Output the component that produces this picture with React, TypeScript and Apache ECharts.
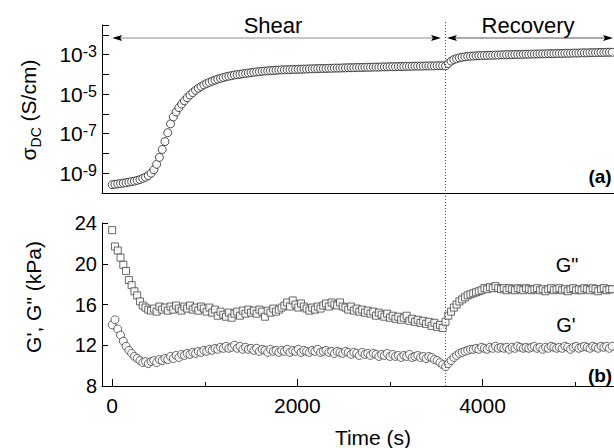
import React, { useEffect, useRef } from 'react';
import * as echarts from 'echarts';

// ---- data ----
const SAMPLE_STEP_S = 30; // sampling interval of the measurement (s)
const SHEAR_END_S = 3600; // end of shear / start of recovery
const TIME_MIN_S = -110;
const TIME_MAX_S = 5420;

// log10 of sigma_DC (S/cm), one value every SAMPLE_STEP_S seconds starting at t = 0
const sigmaLog10 = [
  -9.58, -9.56, -9.54, -9.52, -9.50, -9.48, -9.45, -9.42, -9.40, -9.36,
  -9.32, -9.26, -9.20, -9.12, -9.00, -8.82, -8.55, -8.20, -7.80, -7.40,
  -6.95, -6.50, -6.15, -5.90, -5.68, -5.50, -5.33, -5.18, -5.04, -4.92,
  -4.80, -4.70, -4.61, -4.53, -4.46, -4.40, -4.34, -4.29, -4.24, -4.20,
  -4.16, -4.12, -4.09, -4.06, -4.03, -4.01, -3.99, -3.97, -3.95, -3.93,
  -3.91, -3.89, -3.87, -3.86, -3.84, -3.83, -3.82, -3.81, -3.80, -3.79,
  -3.78, -3.77, -3.77, -3.76, -3.76, -3.75, -3.75, -3.74, -3.74, -3.73,
  -3.73, -3.72, -3.72, -3.71, -3.71, -3.70, -3.70, -3.70, -3.69, -3.69,
  -3.68, -3.68, -3.68, -3.67, -3.67, -3.66, -3.66, -3.66, -3.65, -3.65,
  -3.65, -3.64, -3.64, -3.64, -3.63, -3.63, -3.63, -3.62, -3.62, -3.62,
  -3.61, -3.61, -3.61, -3.60, -3.60, -3.60, -3.59, -3.59, -3.59, -3.58,
  -3.58, -3.58, -3.58, -3.57, -3.57, -3.57, -3.57, -3.56, -3.56, -3.56,
  -3.57, -3.45, -3.33, -3.25, -3.20, -3.16, -3.13, -3.11, -3.09, -3.08,
  -3.07, -3.06, -3.05, -3.05, -3.04, -3.04, -3.03, -3.03, -3.02, -3.02,
  -3.01, -3.01, -3.00, -3.00, -3.00, -2.99, -2.99, -2.99, -2.98, -2.98,
  -2.98, -2.97, -2.97, -2.97, -2.96, -2.96, -2.96, -2.95, -2.95, -2.95,
  -2.94, -2.94, -2.94, -2.93, -2.93, -2.93, -2.92, -2.92, -2.92, -2.91,
  -2.91, -2.91, -2.90, -2.90, -2.90, -2.89, -2.89, -2.89, -2.88, -2.88,
  -2.88,
];

// G'' (kPa)
const gDoublePrime = [
  23.3, 21.7, 21.3, 20.6, 19.9, 19.3, 18.4, 17.9, 17.3, 16.9,
  16.3, 15.9, 15.7, 15.5, 15.4, 15.6, 15.3, 15.8, 15.5, 15.7,
  15.4, 15.8, 15.5, 15.9, 15.6, 15.4, 15.8, 15.6, 15.9, 15.5,
  15.7, 15.4, 15.8, 15.6, 15.3, 15.7, 15.2, 15.5, 14.9, 15.3,
  15.0, 14.8, 15.2, 14.7, 15.1, 15.3, 14.9, 15.4, 15.1, 15.5,
  15.2, 15.4, 15.1, 15.5, 15.3, 14.8, 15.4, 15.2, 15.6, 15.3,
  15.5, 15.7, 15.9, 16.2, 15.8, 16.4, 16.0, 15.7, 16.1, 15.8,
  15.6, 15.4, 15.7, 15.5, 15.8, 15.6, 15.9, 16.1, 15.8, 16.2,
  16.0, 15.9, 16.2, 15.8, 15.7, 15.5, 15.8, 15.4, 15.6, 15.3,
  15.5, 15.2, 15.4, 15.1, 15.3, 14.9, 15.2, 15.0, 14.8, 15.1,
  14.7, 14.9, 14.6, 14.8, 14.5, 14.7, 14.9, 14.4, 14.6, 14.3,
  14.5, 14.2, 14.4, 14.1, 14.3, 13.9, 14.2, 13.8, 14.0, 13.7,
  14.3, 14.9, 15.3, 15.7, 16.0, 16.3, 16.5, 16.7, 16.9, 17.0,
  17.1, 17.2, 17.3, 17.4, 17.6, 17.5, 17.7, 17.6, 17.8, 17.6,
  17.5, 17.6, 17.4, 17.6, 17.5, 17.4, 17.6, 17.5, 17.4, 17.6,
  17.5, 17.4, 17.5, 17.6, 17.4, 17.5, 17.3, 17.5, 17.6, 17.4,
  17.5, 17.6, 17.4, 17.5, 17.3, 17.5, 17.6, 17.4, 17.5, 17.4,
  17.6, 17.5, 17.4, 17.6, 17.5, 17.3, 17.5, 17.6, 17.4, 17.5,
  17.5,
];

// G' (kPa)
const gPrime = [
  14.0, 14.5, 13.6, 13.0, 12.4, 11.9, 11.5, 11.2, 10.9, 10.7,
  10.5, 10.3, 10.4, 10.2, 10.4, 10.5, 10.3, 10.6, 10.5, 10.7,
  10.6, 10.9, 10.7, 11.0, 10.8, 11.1, 11.0, 11.2, 11.1, 11.3,
  11.2, 11.4, 11.3, 11.5, 11.4, 11.6, 11.5, 11.7, 11.6, 11.8,
  11.7, 11.9, 11.7, 11.8, 12.0, 11.7, 11.9, 11.6, 11.8, 11.6,
  11.7, 11.5, 11.7, 11.4, 11.6, 11.5, 11.3, 11.6, 11.4, 11.5,
  11.3, 11.5, 11.4, 11.6, 11.3, 11.5, 11.4, 11.6, 11.3, 11.5,
  11.4, 11.3, 11.5, 11.4, 11.6, 11.3, 11.4, 11.5, 11.3, 11.4,
  11.2, 11.4, 11.3, 11.2, 11.4, 11.3, 11.1, 11.3, 11.2, 11.0,
  11.3, 11.1, 11.2, 11.0, 11.2, 11.1, 10.9, 11.1, 11.0, 11.2,
  10.9, 11.1, 10.9, 11.0, 10.8, 11.0, 10.9, 11.1, 10.8, 10.9,
  11.0, 10.8, 10.9, 10.7, 10.9, 10.8, 10.6, 10.5, 10.3, 10.1,
  9.9, 10.2, 10.5, 10.8, 11.0, 11.2, 11.3, 11.4, 11.5, 11.6,
  11.6, 11.7, 11.6, 11.8, 11.7, 11.6, 11.8, 11.7, 11.9, 11.7,
  11.8, 11.7, 11.8, 11.6, 11.8, 11.7, 11.9, 11.8, 11.7, 11.8,
  11.7, 11.8, 11.9, 11.7, 11.8, 11.6, 11.8, 11.7, 11.9, 11.8,
  11.7, 11.8, 11.7, 11.9, 11.8, 11.6, 11.8, 11.9, 11.7, 11.8,
  11.9, 11.8, 11.7, 11.9, 11.8, 11.7, 11.9, 11.8, 11.9, 11.7,
  11.9,
];

const timeMajorTicks = [0, 2000, 4000];
const timeMinorTicks = [1000, 3000, 5000];
const sigmaLimits = [1e-10, Math.pow(10, -1.5)];
const gLimits = [8, 24];
const gInterval = 4;

const FONT = "'Liberation Sans', Arial, Helvetica, sans-serif";

export default function App() {
  const ref = useRef<HTMLDivElement>(null);

  useEffect(() => {
    const chart = echarts.init(ref.current!, null, { renderer: 'svg' });
    const axisLineStyle = { color: '#000', width: 1 };

    const option: any = {
      animation: false,
      backgroundColor: '#fff',
      grid: [
        { left: 102, top: 25, width: 512, height: 168 },
        { left: 102, top: 223, width: 512, height: 163 },
      ],
      xAxis: [
        {
          gridIndex: 0, type: 'value', min: TIME_MIN_S, max: TIME_MAX_S,
          axisLine: { lineStyle: axisLineStyle },
          axisTick: { show: false }, axisLabel: { show: false }, splitLine: { show: false },
        },
        {
          gridIndex: 1, type: 'value', min: TIME_MIN_S, max: TIME_MAX_S, position: 'bottom',
          axisLine: { lineStyle: axisLineStyle },
          axisTick: { inside: true, length: 7, customValues: timeMajorTicks, lineStyle: axisLineStyle },
          axisLabel: {
            customValues: timeMajorTicks, fontSize: 21, color: '#000', fontFamily: FONT, margin: 9,
            formatter: (v: number) => String(v),
          },
          splitLine: { show: false },
        },
        {
          gridIndex: 1, type: 'value', min: TIME_MIN_S, max: TIME_MAX_S, position: 'bottom',
          axisLine: { show: false },
          axisTick: { inside: true, length: 4, customValues: timeMinorTicks, lineStyle: axisLineStyle },
          axisLabel: { show: false }, splitLine: { show: false },
        },
      ],
      yAxis: [
        {
          gridIndex: 0, type: 'log', logBase: 10, min: sigmaLimits[0], max: sigmaLimits[1],
          axisLine: { onZero: false, lineStyle: axisLineStyle },
          axisTick: { inside: true, length: 7, lineStyle: axisLineStyle },
          axisLabel: {
            margin: 5, fontSize: 21, color: '#000', fontFamily: FONT,
            formatter: (v: number) => {
              const e = Math.log10(v);
              const r = Math.round(e);
              if (Math.abs(e - r) > 0.01 || Math.abs(r) % 2 === 0) return '';
              return `{b|10}{s|${r}}`;
            },
            rich: {
              b: { fontSize: 21, lineHeight: 22, color: '#000', fontFamily: FONT },
              s: { fontSize: 16, lineHeight: 16, verticalAlign: 'top', color: '#000', fontFamily: FONT },
            },
          },
          splitLine: { show: false },
        },
        {
          gridIndex: 1, type: 'value', min: gLimits[0], max: gLimits[1], interval: gInterval,
          axisLine: { onZero: false, lineStyle: axisLineStyle },
          axisTick: { inside: true, length: 6, lineStyle: axisLineStyle },
          axisLabel: { fontSize: 20, color: '#000', fontFamily: FONT, margin: 5 },
          splitLine: { show: false },
        },
      ],
      series: [
        {
          type: 'scatter', xAxisIndex: 0, yAxisIndex: 0,
          data: sigmaLog10.map((e, i) => [i * SAMPLE_STEP_S, Math.pow(10, e)]),
          symbol: 'circle', symbolSize: 8,
          itemStyle: { color: '#fff', borderColor: '#222', borderWidth: 1 },
        },
        {
          type: 'scatter', xAxisIndex: 1, yAxisIndex: 1,
          data: gDoublePrime.map((v, i) => [i * SAMPLE_STEP_S, v]),
          symbol: 'rect', symbolSize: 7,
          itemStyle: { color: '#fff', borderColor: '#444', borderWidth: 1 },
        },
        {
          type: 'scatter', xAxisIndex: 1, yAxisIndex: 1,
          data: gPrime.map((v, i) => [i * SAMPLE_STEP_S, v]),
          symbol: 'circle', symbolSize: 8,
          itemStyle: { color: '#fff', borderColor: '#444', borderWidth: 1 },
        },
      ],
    };
    chart.setOption(option);

    const px = (t: number) => chart.convertToPixel({ xAxisIndex: 1 }, t) as number;
    const yBottom = chart.convertToPixel({ yAxisIndex: 1 }, gLimits[0]) as number;
    const xStart = px(0);
    const xSplit = px(SHEAR_END_S);
    const xEnd = px(TIME_MAX_S) - 1;
    const arrowY = 38;
    const head = (tip: number, dir: number, color: string) => ({
      type: 'polygon',
      shape: { points: [[tip, arrowY], [tip + dir * 10, arrowY - 3], [tip + dir * 8, arrowY], [tip + dir * 10, arrowY + 3]] },
      style: { fill: color },
      z: 10,
    });
    const shearL = xStart;
    const shearR = xSplit - 4.5;
    const recL = xSplit + 1.5;
    const recR = xEnd;

    const textStyle = (text: string, size: number, extra: any = {}) => ({
      text, fontSize: size, fontFamily: FONT, fill: '#000', align: 'center', verticalAlign: 'middle', ...extra,
    });

    chart.setOption({
      graphic: [
        {
          type: 'line', shape: { x1: xSplit, y1: 22, x2: xSplit, y2: yBottom },
          style: { stroke: '#555', lineWidth: 1, lineDash: [1, 2] }, z: 5,
        },
        { type: 'line', shape: { x1: shearL + 4, y1: arrowY, x2: shearR - 4, y2: arrowY }, style: { stroke: '#b3b3b3', lineWidth: 1.5 }, z: 9 },
        head(shearL, 1, '#000'),
        head(shearR, -1, '#000'),
        { type: 'line', shape: { x1: recL + 4, y1: arrowY, x2: recR - 4, y2: arrowY }, style: { stroke: '#555', lineWidth: 1 }, z: 9 },
        head(recL, 1, '#000'),
        head(recR, -1, '#000'),
        { type: 'text', x: 273, y: 25, style: textStyle('Shear', 22), z: 10 },
        { type: 'text', x: 528, y: 25, style: textStyle('Recovery', 22), z: 10 },
        { type: 'text', x: 600, y: 176, style: textStyle('(a)', 19, { fontWeight: 'bold' }), z: 10 },
        { type: 'text', x: 600, y: 375, style: textStyle('(b)', 19, { fontWeight: 'bold' }), z: 10 },
        { type: 'text', x: 567, y: 265, style: textStyle('G"', 20), z: 10 },
        { type: 'text', x: 566, y: 325, style: textStyle("G'", 20), z: 10 },
        { type: 'text', x: 373, y: 437, style: textStyle('Time (s)', 21), z: 10 },
        {
          type: 'text', x: 28, y: 110, rotation: Math.PI / 2,
          style: {
            text: '{a|σ}{s|DC}{a| (S/cm)}', align: 'center', verticalAlign: 'middle', fill: '#000',
            rich: {
              a: { fontSize: 21, lineHeight: 30, fontFamily: FONT, fill: '#000' },
              s: { fontSize: 14, lineHeight: 14, verticalAlign: 'bottom', fontFamily: FONT, fill: '#000' },
            },
          },
          z: 10,
        },
        {
          type: 'text', x: 33, y: 297, rotation: Math.PI / 2,
          style: textStyle('G\', G" (kPa)', 21),
          z: 10,
        },
      ],
    });

    return () => chart.dispose();
  }, []);

  return <div ref={ref} style={{ position: 'absolute', left: 0, top: 0, width: 614, height: 448 }} />;
}
